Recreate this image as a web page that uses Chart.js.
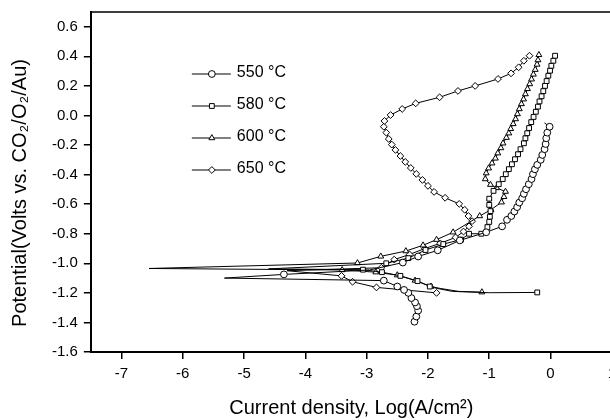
<!DOCTYPE html>
<html>
<head>
<meta charset="utf-8">
<script src="https://cdn.jsdelivr.net/npm/chart.js@4.4.1/dist/chart.umd.min.js"></script>
<style>
  html, body { margin: 0; padding: 0; background: #fff; overflow: hidden; }
  #wrap { width: 610px; height: 420px; overflow: hidden; }
</style>
</head>
<body>
<div id="wrap"><canvas id="tafel" width="622" height="420"></canvas></div>
<script>
/* ── Tafel curves: potential vs log(current density) ── */

const temps = ['550', '580', '600', '650'];
const markers = ['circle', 'rect', 'triangle', 'rectRot'];
const xTicks = [-7, -6, -5, -4, -3, -2, -1, 0, 1];
const yTicks = [-1.6, -1.4, -1.2, -1.0, -0.8, -0.6, -0.4, -0.2, 0.0, 0.2, 0.4, 0.6];
const yTitle = 'Potential(Volts vs. CO₂/O₂/Au)';
const xTitle = 'Current density, Log(A/cm²)';

// 550 °C
const cath550 = [[-2.22, -1.395], [-2.19, -1.36], [-2.16, -1.32], [-2.18, -1.29], [-2.21, -1.265], [-2.27, -1.235],
    [-2.32, -1.20], [-2.39, -1.18], [-2.50, -1.157], [-2.72, -1.117]];
const tip550 = [[-5.32, -1.10]];
const mid550 = [[-4.35, -1.075]];
const gap550 = [[-2.95, -1.045]];
const anod550 = [[-2.41, -0.995], [-2.16, -0.954], [-1.84, -0.912], [-1.48, -0.845], [-1.05, -0.79], [-0.79, -0.75],
    [-0.71, -0.706], [-0.64, -0.68], [-0.59, -0.65], [-0.545, -0.62], [-0.51, -0.589], [-0.463, -0.56], [-0.435, -0.53],
    [-0.40, -0.499], [-0.355, -0.465], [-0.31, -0.43], [-0.287, -0.397], [-0.255, -0.364], [-0.217, -0.334], [-0.16, -0.30],
    [-0.135, -0.267], [-0.097, -0.228], [-0.08, -0.193], [-0.07, -0.154], [-0.053, -0.116], [-0.015, -0.076]];
const tail550 = [[-0.10, -0.05]];

// 580 °C
const start580 = [[-0.217, -1.197]];
const lead580 = [[-1.0, -1.199], [-1.6, -1.19], [-1.85, -1.17]];
const cath580 = [[-1.97, -1.157], [-2.17, -1.12], [-2.45, -1.085], [-2.75, -1.06], [-3.06, -1.043]];
const tip580 = [[-4.6, -1.038]];
const anod580 = [[-2.68, -1.0], [-2.32, -0.965], [-2.04, -0.91], [-1.75, -0.87], [-1.46, -0.84], [-1.33, -0.80],
    [-1.13, -0.80], [-1.03, -0.755], [-1.0, -0.72], [-0.99, -0.685], [-0.98, -0.647], [-1.0, -0.605], [-1.0, -0.563],
    [-0.93, -0.51], [-0.845, -0.465], [-0.78, -0.43], [-0.73, -0.397], [-0.68, -0.363], [-0.63, -0.33], [-0.58, -0.296],
    [-0.53, -0.262], [-0.49, -0.228], [-0.435, -0.188], [-0.41, -0.154], [-0.38, -0.12], [-0.35, -0.085], [-0.315, -0.045],
    [-0.277, -0.01], [-0.24, 0.025], [-0.205, 0.06], [-0.18, 0.095], [-0.146, 0.13], [-0.118, 0.165], [-0.09, 0.2],
    [-0.064, 0.233], [-0.036, 0.269], [-0.008, 0.303], [0.013, 0.336], [0.046, 0.37], [0.074, 0.404]];

// 600 °C
const start600 = [[-1.12, -1.195]];
const lead600 = [[-1.5, -1.19], [-1.8, -1.17]];
const cath600 = [[-1.95, -1.157], [-2.21, -1.116], [-2.5, -1.08], [-2.85, -1.06], [-3.4, -1.045]];
const tip600 = [[-6.55, -1.035]];
const anod600 = [[-3.15, -0.998], [-2.77, -0.953], [-2.36, -0.917], [-2.08, -0.878], [-1.86, -0.84], [-1.59, -0.79],
    [-1.156, -0.68], [-0.97, -0.637], [-0.80, -0.587], [-0.76, -0.55], [-0.735, -0.515], [-0.88, -0.49], [-0.98, -0.468],
    [-1.065, -0.43], [-1.05, -0.39], [-1.01, -0.357], [-0.955, -0.323], [-0.90, -0.29], [-0.86, -0.255], [-0.81, -0.22],
    [-0.775, -0.188], [-0.72, -0.15], [-0.68, -0.12], [-0.65, -0.09], [-0.61, -0.057], [-0.57, -0.024], [-0.54, 0.01],
    [-0.51, 0.044], [-0.475, 0.078], [-0.44, 0.11], [-0.41, 0.145], [-0.376, 0.18], [-0.34, 0.213], [-0.31, 0.245],
    [-0.28, 0.278], [-0.25, 0.31], [-0.22, 0.345], [-0.205, 0.375], [-0.19, 0.41]];

// 650 °C
const cath650 = [[-1.86, -1.2], [-2.84, -1.163], [-3.23, -1.125], [-3.41, -1.085]];
const tip650 = [[-4.3, -1.05]];
const anod650 = [[-2.76, -1.03], [-2.55, -0.975], [-2.3, -0.94], [-2.05, -0.9], [-1.8, -0.865], [-1.55, -0.825],
    [-1.42, -0.785], [-1.33, -0.75], [-1.28, -0.715], [-1.34, -0.68], [-1.40, -0.638], [-1.49, -0.598], [-1.72, -0.557],
    [-1.90, -0.517], [-2.0, -0.476], [-2.09, -0.436], [-2.19, -0.395], [-2.28, -0.355], [-2.37, -0.314], [-2.45, -0.274],
    [-2.53, -0.233], [-2.59, -0.197], [-2.64, -0.159], [-2.68, -0.116], [-2.72, -0.076], [-2.71, -0.037], [-2.61, 0.003],
    [-2.42, 0.044], [-2.20, 0.082], [-1.81, 0.123], [-1.51, 0.166], [-1.23, 0.20], [-0.857, 0.247], [-0.644, 0.285],
    [-0.52, 0.326], [-0.435, 0.37], [-0.343, 0.404]];

/* segments: [points, hasSymbols] in sweep order */
const sweeps = [
    [[cath550, true], [tip550, false], [mid550, true], [gap550, false], [anod550, true], [tail550, false]],
    [[start580, true], [lead580, false], [cath580, true], [tip580, false], [anod580, true]],
    [[start600, true], [lead600, false], [cath600, true], [tip600, false], [anod600, true]],
    [[cath650, true], [tip650, false], [anod650, true]],
];

function buildSeries(parts) {
    const data = [], plain = new Set();
    parts.forEach(([pts, marked]) => pts.forEach(([x, y]) => {
        if (!marked) plain.add(data.length);
        data.push({ x, y });
    }));
    return { data, plain };
}

const FONT = '"Liberation Sans", Arial, Helvetica, sans-serif';
const MR = 3.4;

const datasets = sweeps.map((parts, i) => {
    const s = buildSeries(parts);
    return {
        label: temps[i] + ' °C',
        data: s.data,
        showLine: true,
        borderColor: '#000',
        borderWidth: 1,
        pointStyle: markers[i],
        pointRadius: ctx => s.plain.has(ctx.dataIndex) ? 0 : MR,
        pointBackgroundColor: '#fff',
        pointBorderColor: '#000',
        pointBorderWidth: 1,
        tension: 0,
    };
});

/* legend drawn inside the plot, symbol on a short line */
const innerLegend = {
    id: 'innerLegend',
    afterDatasetsDraw(chart) {
        const { ctx, chartArea: a } = chart;
        ctx.save();
        temps.forEach((t, i) => {
            const y = a.top + 62 + i * 32;
            const x0 = a.left + 101;
            ctx.strokeStyle = '#000';
            ctx.lineWidth = 1;
            ctx.beginPath(); ctx.moveTo(x0, y); ctx.lineTo(x0 + 39, y); ctx.stroke();
            ctx.fillStyle = '#fff';
            if (Chart.helpers && Chart.helpers.drawPoint) {
                Chart.helpers.drawPoint(ctx, { pointStyle: markers[i], radius: MR, borderWidth: 1, rotation: 0 }, x0 + 20, y);
            }
            ctx.fillStyle = '#000';
            ctx.font = '16px ' + FONT;
            ctx.textBaseline = 'middle';
            ctx.textAlign = 'left';
            ctx.fillText(t + ' °C', x0 + 45, y - 1);
        });
        ctx.restore();
    }
};

/* closed frame round the plot + y title sitting a little below centre */
const frame = {
    id: 'frame',
    afterDraw(chart) {
        const { ctx, chartArea: a } = chart;
        ctx.save();
        ctx.strokeStyle = '#000';
        ctx.lineWidth = 1.5;
        ctx.strokeRect(a.left, a.top, a.right - a.left, a.bottom - a.top);
        ctx.translate(20, (a.top + a.bottom) / 2 + 11);
        ctx.rotate(-Math.PI / 2);
        ctx.fillStyle = '#000';
        ctx.font = '20px ' + FONT;
        ctx.textAlign = 'center';
        ctx.textBaseline = 'middle';
        ctx.fillText(yTitle, 0, 0);
        ctx.restore();
    }
};

const axisBase = {
    type: 'linear',
    border: { display: true, color: '#000', width: 2 },
    grid: { drawOnChartArea: false, drawTicks: true, tickLength: 7, color: '#000', lineWidth: 1.5 },
};

new Chart(document.getElementById('tafel'), {
    type: 'scatter',
    data: { datasets },
    plugins: [innerLegend, frame],
    options: {
        responsive: false,
        animation: false,
        layout: { padding: { left: 46, right: 9, top: 12, bottom: 0 } },
        plugins: { legend: { display: false }, tooltip: { enabled: false } },
        scales: {
            x: {
                ...axisBase,
                min: -7.5, max: 1,
                afterBuildTicks: s => { s.ticks = xTicks.map(v => ({ value: v })); },
                ticks: { color: '#000', font: { family: FONT, size: 15 }, padding: 6, maxRotation: 0, callback: v => String(v) },
                title: { display: true, text: xTitle, color: '#000',
                    font: { family: FONT, size: 20 }, padding: { top: 7, bottom: 0 } },
            },
            y: {
                ...axisBase,
                min: -1.6, max: 0.7,
                afterBuildTicks: s => { s.ticks = yTicks.map(v => ({ value: v })); },
                afterFit: s => { s.paddingTop = 0; },
                ticks: { color: '#000', font: { family: FONT, size: 15 }, padding: 6, callback: v => v.toFixed(1) },
                title: { display: false },
            },
        },
    },
});
</script>
</body>
</html>
